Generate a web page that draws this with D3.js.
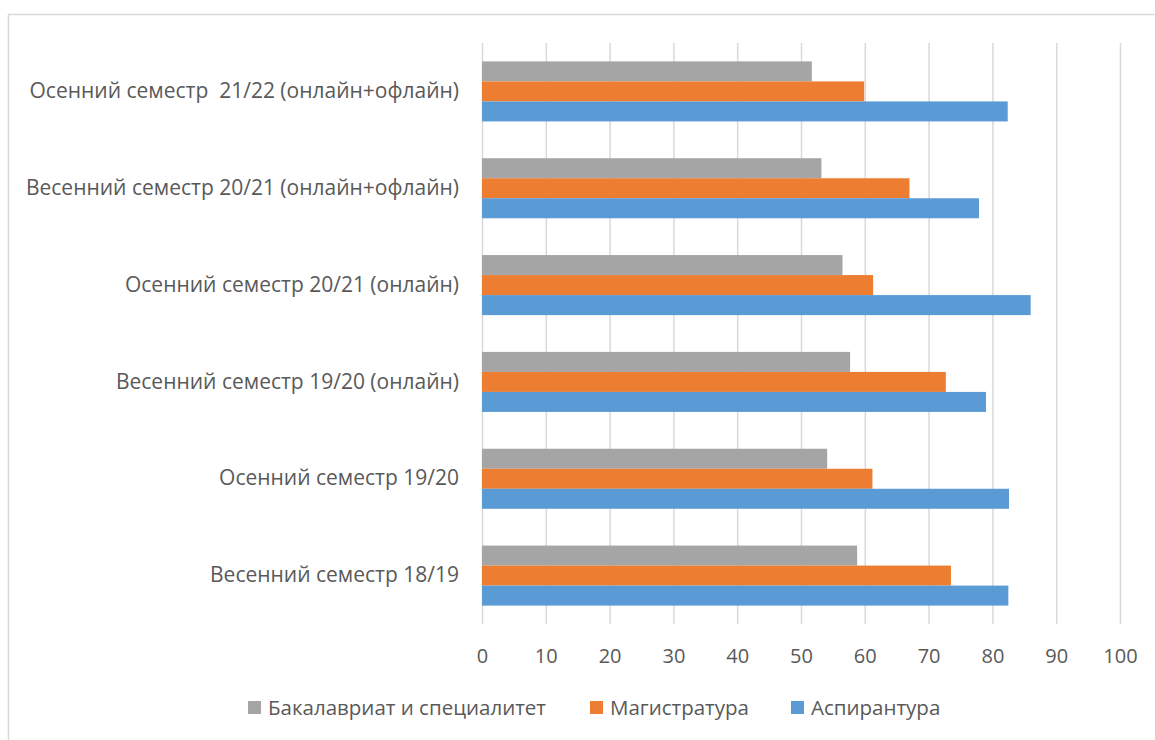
<!DOCTYPE html>
<html>
<head>
<meta charset="utf-8">
<script src="https://cdn.jsdelivr.net/npm/d3@7"></script>
<style>
  body { margin: 0; background: #fff; }
  svg text { font-family: "Open Sans", sans-serif; fill: #595959; white-space: pre; }
</style>
</head>
<body>
<script>
// categories, top to bottom as drawn
var categories = [
  "Осенний семестр  21/22 (онлайн+офлайн)",
  "Весенний семестр 20/21 (онлайн+офлайн)",
  "Осенний семестр 20/21 (онлайн)",
  "Весенний семестр 19/20 (онлайн)",
  "Осенний семестр 19/20",
  "Весенний семестр 18/19"
];
var seriesNames = ["Бакалавриат и специалитет", "Магистратура", "Аспирантура"];
var bachelor = [51.7, 53.2, 56.5, 57.7, 54.1, 58.8];
var master   = [59.9, 67.0, 61.3, 72.7, 61.2, 73.5];
var phd      = [82.4, 77.9, 86.0, 79.0, 82.6, 82.5];
var xTicks = [0, 10, 20, 30, 40, 50, 60, 70, 80, 90, 100];
var colors = ["#a5a5a5", "#ed7d31", "#5b9bd5"];

var seriesValues = [bachelor, master, phd];

var width = 1155, height = 740;
var margin = {top: 43, right: 35, bottom: 116, left: 482};

var svg = d3.select("body").append("svg")
    .attr("width", width)
    .attr("height", height);

// chart frame
svg.append("rect")
    .attr("x", 8.5).attr("y", 14.5)
    .attr("width", 1170).attr("height", 760)
    .attr("fill", "none")
    .attr("stroke", "#d9d9d9")
    .attr("stroke-width", 1.5);

var x = d3.scaleLinear()
    .domain([0, 100])
    .range([margin.left, width - margin.right]);

var y = d3.scaleBand()
    .domain(categories)
    .range([margin.top, height - margin.bottom])
    .paddingInner(0.38)
    .paddingOuter(0.19);

var ySub = d3.scaleBand()
    .domain(d3.range(seriesNames.length))
    .range([0, y.bandwidth()]);

// gridlines
svg.append("g")
    .attr("class", "grid")
    .attr("transform", "translate(0," + (height - margin.bottom) + ")")
    .call(d3.axisBottom(x).tickValues(xTicks).tickSize(-(height - margin.bottom - margin.top)).tickFormat(""))
    .call(function(g) {
      g.select(".domain").remove();
      g.selectAll("line").attr("stroke", "#d9d9d9").attr("stroke-width", 1.5);
    });

// bars
categories.forEach(function(c, i) {
  seriesValues.forEach(function(vals, s) {
    svg.append("rect")
        .attr("x", x(0))
        .attr("y", y(c) + ySub(s))
        .attr("width", x(vals[i]) - x(0))
        .attr("height", ySub.bandwidth())
        .attr("fill", colors[s]);
  });
});

// x axis labels
svg.append("g")
    .attr("transform", "translate(0," + (height - margin.bottom) + ")")
    .call(d3.axisBottom(x).tickValues(xTicks).tickSize(0).tickPadding(25))
    .call(function(g) {
      g.select(".domain").remove();
      g.selectAll("text").style("font-size", "20px").attr("fill", "#595959");
    });

// category labels
svg.append("g")
    .attr("transform", "translate(" + margin.left + ",0)")
    .call(d3.axisLeft(y).tickSize(0).tickPadding(23))
    .call(function(g) {
      g.select(".domain").remove();
      g.selectAll("text").style("font-size", "21px").attr("fill", "#595959");
    });

// legend
var legendX = [248, 590, 791];
var legend = svg.append("g").attr("transform", "translate(0,708)");
seriesNames.forEach(function(n, i) {
  legend.append("rect")
      .attr("x", legendX[i]).attr("y", -7)
      .attr("width", 13).attr("height", 13)
      .attr("fill", colors[i]);
  legend.append("text")
      .attr("x", legendX[i] + 20)
      .attr("dy", "0.35em")
      .style("font-size", "20.5px")
      .text(n);
});
</script>
</body>
</html>
